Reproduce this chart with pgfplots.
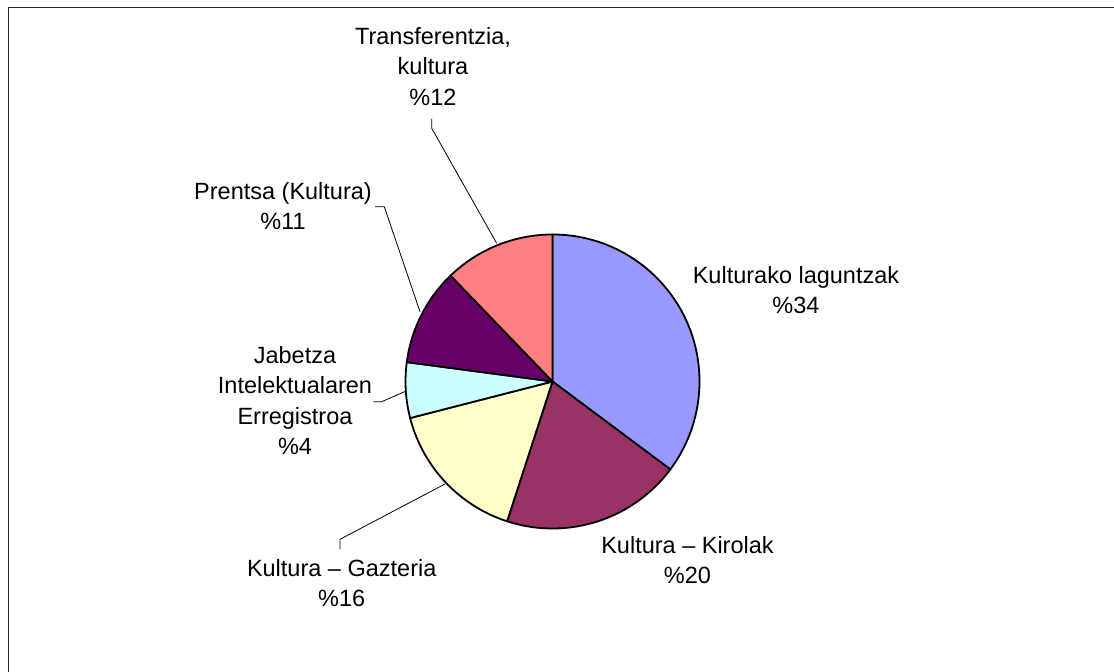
\documentclass[border=0pt]{standalone}
\usepackage{pgfplots}
\usepackage{pgfplotstable}
\pgfplotsset{compat=1.18}
\usepackage{fontspec}
\setmainfont{Liberation Sans}
\definecolor{c1}{HTML}{9999FF}
\definecolor{c2}{HTML}{993366}
\definecolor{c3}{HTML}{FFFFCC}
\definecolor{c4}{HTML}{CCFFFF}
\definecolor{c5}{HTML}{660066}
\definecolor{c6}{HTML}{FF8080}
\pgfplotstableread{
value color
35.2 c1
19.8 c2
16.0 c3
6.1 c4
10.7 c5
12.2 c6
}\piedata
\newcommand{\lbl}[3]{\node[anchor=base, inner sep=0pt, font=\fontsize{23.5}{28}\selectfont] at (axis cs:#1,672-#2) {#3};}
\begin{document}
\begin{tikzpicture}
\useasboundingbox (0,0) rectangle (1114pt,672pt);
\begin{axis}[at={(0,0)}, anchor=south west, x=1pt, y=1pt, scale only axis,
  xmin=0, xmax=1114, ymin=0, ymax=672, hide axis, clip=false]
\pgfmathsetmacro{\cum}{90}
\pgfplotsforeachungrouped \i in {0,...,5}{%
  \pgfplotstablegetelem{\i}{value}\of\piedata
  \pgfmathsetmacro{\startang}{\cum}%
  \pgfmathsetmacro{\endang}{\cum - 3.6*\pgfplotsretval}%
  \pgfplotstablegetelem{\i}{color}\of\piedata
  \edef\wedgecmd{\noexpand\filldraw[fill=\pgfplotsretval, draw=black, line width=1.8pt, line join=round] (axis cs:552.5,290.5) -- ++(\startang:147pt) arc[start angle=\startang, end angle=\endang, radius=147pt] -- cycle;}%
  \wedgecmd
  \global\let\cum\endang
}
% frame
\draw[line width=1.3pt, color=black!85] (axis cs:8.3,0) -- (axis cs:8.3,664.7) -- (axis cs:1114,664.7);
% leader lines
\draw[line width=0.8pt] (axis cs:431.7,672-119) -- (axis cs:431.7,672-128.3) -- (axis cs:496.7,672-243.3);
\draw[line width=0.8pt] (axis cs:375,672-206.7) -- (axis cs:384.3,672-206.7) -- (axis cs:420,672-311.7);
\draw[line width=0.8pt] (axis cs:373.3,672-401.7) -- (axis cs:381.7,672-401.7) -- (axis cs:405,672-391.5);
\draw[line width=0.8pt] (axis cs:340,672-549.3) -- (axis cs:340,672-539.3) -- (axis cs:445,672-484);
% labels
\lbl{433}{45}{Transferentzia,}
\lbl{433}{75}{kultura}
\lbl{433}{105.5}{\%12}
\lbl{283}{200}{Prentsa (Kultura)}
\lbl{283}{230}{\%11}
\lbl{796}{283.5}{Kulturako laguntzak}
\lbl{796}{313.5}{\%34}
\lbl{295}{363.5}{Jabetza}
\lbl{295}{394}{Intelektualaren}
\lbl{295}{424.5}{Erregistroa}
\lbl{295}{455}{\%4}
\lbl{687.5}{553.5}{Kultura – Kirolak}
\lbl{687.5}{583.5}{\%20}
\lbl{341.7}{576.5}{Kultura – Gazteria}
\lbl{341.7}{606.5}{\%16}
\end{axis}
\end{tikzpicture}
\end{document}
